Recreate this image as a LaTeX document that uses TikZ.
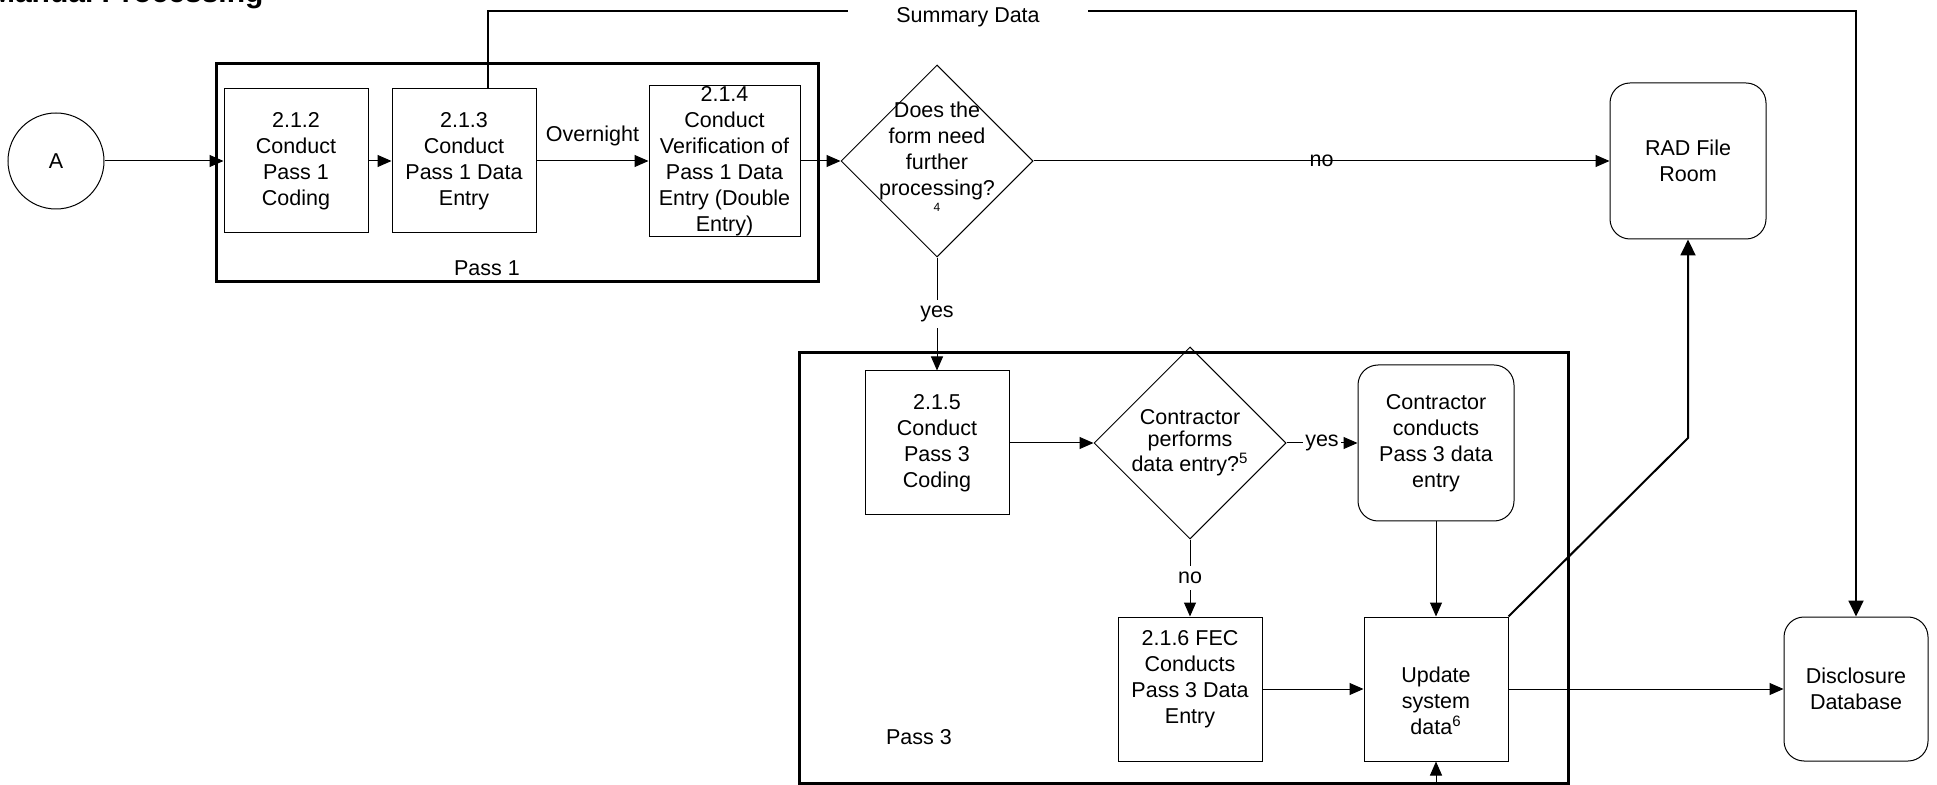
\documentclass[tikz,border=0pt]{standalone}
\usepackage{fontspec}
\setmainfont{Liberation Sans}
\usetikzlibrary{shapes.geometric,arrows.meta}
\tikzset{
 every node/.style={font=\fontsize{10.75}{13}\selectfont},
 procbox/.style={draw,line width=0.5pt,minimum width=72pt,minimum height=72pt,inner sep=1pt,align=center},
 endbox/.style={procbox,rounded corners=10pt,minimum width=78pt,minimum height=78pt},
 decision/.style={draw,diamond,line width=0.5pt,minimum width=96pt,minimum height=96pt,inner sep=0pt},
 passframe/.style={draw,line width=1.5pt,inner sep=0pt},
 flow/.style={line width=0.5pt,-{Triangle[length=7pt,width=6pt]}},
 bigflow/.style={line width=1pt,-{Triangle[length=8pt,width=7.5pt]}},
 gaplabel/.style={fill=white,inner xsep=1pt,inner ysep=3pt}
}
\begin{document}
\begin{tikzpicture}[x=0.5pt,y=-0.5pt]
 \useasboundingbox (0,0) rectangle (1937,785);
 \node[anchor=base west,font=\bfseries\fontsize{15}{18}\selectfont] (title) at (-17,3) {Manual Processing};
 \node[passframe,minimum width=301pt,minimum height=109pt] (pass1) at (517,173) {};
 \node (pass1lbl) at (487,268) {Pass 1};
 \node[passframe,minimum width=384.5pt,minimum height=215pt] (pass3) at (1183.5,568) {};
 \node (pass3lbl) at (919,737) {Pass 3};
 \node[draw,circle,line width=0.5pt,minimum size=48pt,inner sep=0pt] (A) at (56,161) {A};
 \node[procbox] (b212) at (296,161) {2.1.2\\Conduct\\Pass 1\\Coding};
 \node[procbox] (b213) at (464,161) {2.1.3\\Conduct\\Pass 1 Data\\Entry};
 \node[procbox,inner sep=0pt,minimum width=75.5pt,minimum height=75.5pt] (b214) at (724.5,161) {2.1.4\\Conduct\\Verification of\\Pass 1 Data\\Entry (Double\\Entry)};
 \node[decision,label={[align=center,yshift=2pt]center:Does the\\form need\\further\\processing?\\[-5pt]{\fontsize{6}{7}\selectfont 4}}] (q1) at (937,161) {};
 \node[endbox] (rad) at (1688,161) {RAD File\\Room};
 \node[procbox] (b215) at (937,443) {2.1.5\\Conduct\\Pass 3\\Coding};
 \node[decision,label={[align=center,font=\fontsize{10.75}{11}\selectfont]center:Contractor\\performs\\data entry?\textsuperscript{5}}] (q2) at (1190,443) {};
 \node[endbox] (cc) at (1436,443) {Contractor\\conducts\\Pass 3 data\\entry};
 \node[procbox,label={[align=center,yshift=5pt]center:2.1.6 FEC\\Conducts\\Pass 3 Data\\Entry}] (b216) at (1190,689) {};
 \node[procbox,label={[align=center,yshift=-6pt]center:Update\\system\\data\textsuperscript{6}}] (upd) at (1436,689) {};
 \node[endbox,minimum width=72pt,minimum height=72pt] (disc) at (1856,689) {Disclosure\\Database};
 \node[inner sep=0pt,minimum width=120pt] (sum) at (968,17) {Summary Data};
 \coordinate (bend) at (1688,438);
 \coordinate (offpage) at (1436,800);
 \draw[flow] (A) -- (b212);
 \draw[flow] (b212) -- (b213);
 \draw[flow] (b213) -- node[above=4pt] (overnight) {Overnight} (b214);
 \draw[flow] (b214) -- (q1);
 \draw[flow] (q1) -- node (no1) {no} (rad);
 \draw[flow] (q1) -- node[gaplabel] (yes1) {yes} (b215);
 \draw[flow] (b215) -- (q2);
 \draw[flow] (q2) -- node[gaplabel] (yes2) {yes} (cc);
 \draw[flow] (q2) -- node[gaplabel] (no2) {no} (b216);
 \draw[flow] (cc) -- (upd);
 \draw[flow] (b216) -- (upd);
 \draw[flow] (upd) -- (disc);
 \draw[flow] (offpage) -- (upd);
 \draw[bigflow] (upd.north east) -- (bend) -- (rad.south);
 \draw[line width=1pt] ([xshift=12pt]b213.north) |- ([yshift=3pt]sum.west);
 \draw[bigflow] ([yshift=3pt]sum.east) -| (disc.north);
\end{tikzpicture}
\end{document}
